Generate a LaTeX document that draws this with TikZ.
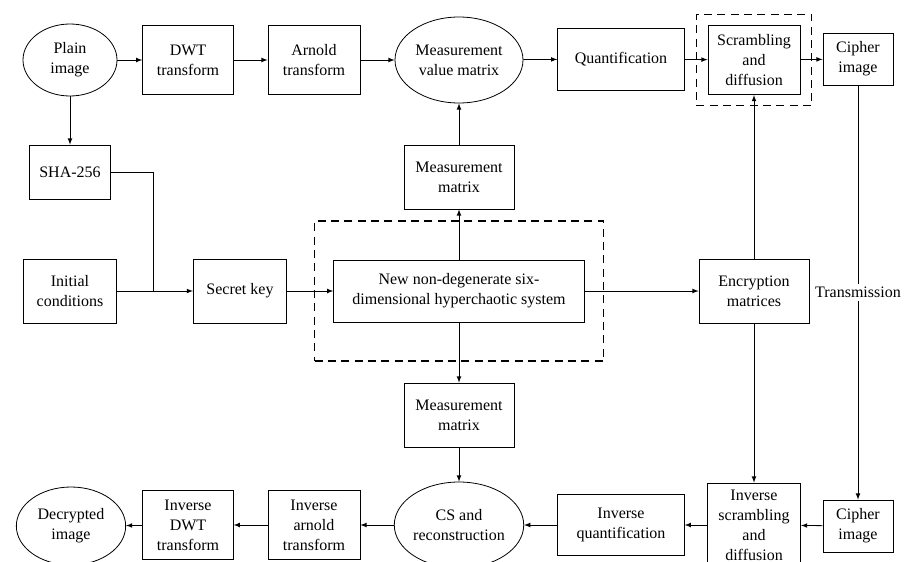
\documentclass[tikz,border=0pt]{standalone}
\usepackage{fontspec}
\setmainfont{Liberation Serif}
\usetikzlibrary{shapes.geometric, positioning, fit, arrows}

\begin{document}
\begin{tikzpicture}[->,>=latex,x=0.75pt,y=-0.75pt,line width=0.6pt,
		box/.style={draw, align=center, inner sep=1pt, minimum width=#1},
		box/.default=69pt,
		oval/.style={draw, ellipse, align=center, inner sep=0pt},
		group/.style={draw, dashed, line width=1pt, dash pattern=on 6pt off 4pt},
	]
			\fontsize{12}{15}\selectfont
			\useasboundingbox (0,0) rectangle (904,561);
			\clip (0,0) rectangle (904,561);
			% encryption row
			\node[oval, minimum width=70.5pt, minimum height=54pt] at (70, 60) (plain) {Plain\\image};
			\node[box=68pt, minimum height=52pt] at (188, 60) (dwt) {DWT\\transform};
			\node[box, minimum height=52pt] at (314, 60) (arnold) {Arnold\\transform};
			\node[oval, minimum width=96pt, minimum height=64.5pt] at (459, 60) (mvm) {Measurement\\value matrix};
			\node[box=95pt, minimum height=46.5pt] at (621, 59) (quant) {Quantification};
			\node[box, minimum height=52pt] at (754, 60) (scram) {Scrambling\\and\\diffusion};
			\node[box=52.5pt, minimum height=39pt] at (858, 59) (cipher-a) {Cipher\\image};
			% key generation
			\node[box=61pt, minimum height=40.5pt] at (70, 172) (sha) {SHA-256};
			\node[box=82.5pt, minimum height=48pt] at (459, 177) (mm-a) {Measurement\\matrix};
			\node[box=70pt, minimum height=48pt] at (70, 291) (init) {Initial\\conditions};
			\node[box=70pt, minimum height=48pt] at (240, 291) (key) {Secret key};
			\node[box=188pt, minimum height=46.5pt] at (459, 291) (chaos) {New non-degenerate six-\\dimensional hyperchaotic system};
			\node[box=82.5pt, minimum height=48pt] at (754, 291) (enc) {Encryption\\matrices};
			\node[box=82.5pt, minimum height=48pt] at (459, 415) (mm-b) {Measurement\\matrix};
			\coordinate (join) at (153, 291);
			% decryption row
			\node[oval, minimum width=96pt, minimum height=64.5pt] at (459, 525) (cs) {CS and\\reconstruction};
			\node[box=95pt, minimum height=46pt] at (621, 525) (iquant) {Inverse\\quantification};
			\node[box=70pt, minimum height=63pt] at (754, 525) (iscram) {Inverse\\scrambling\\and\\diffusion};
			\node[box=52.5pt, minimum height=39pt] at (858, 526) (cipher-b) {Cipher\\image};
			\node[box, minimum height=52pt] at (314, 525) (iarnold) {Inverse\\arnold\\transform};
			\node[box=68pt, minimum height=52pt] at (188, 525) (idwt) {Inverse\\DWT\\transform};
			\node[oval, minimum width=82pt, minimum height=58.5pt] at (71, 526) (dec) {Decrypted\\image};
			% dashed groups
			\node[group, fit=(scram), inner xsep=8.5pt, inner ysep=8pt] (scram-g) {};
			\node[group, fit=(chaos), inner xsep=14pt, inner ysep=29pt] (chaos-g) {};

			\draw (plain) -- (dwt);
			\draw (dwt) -- (arnold);
			\draw (arnold) -- (mvm);
			\draw (mvm) -- (quant);
			\draw (quant) -- (scram);
			\draw (scram) -- (cipher-a);
			\draw (plain) -- (sha);
			\draw[-] (sha) -| (join);
			\draw (init) -- (key);
			\draw (key) -- (chaos);
			\draw (chaos) -- (mm-a);
			\draw (mm-a) -- (mvm);
			\draw (chaos) -- (mm-b);
			\draw (mm-b) -- (cs);
			\draw (chaos) -- (enc);
			\draw (enc) -- (scram);
			\draw (enc) -- (iscram);
			\draw (cipher-a) -- node[fill=white, inner sep=2pt] (trans) {Transmission} (cipher-b);
			\draw (cipher-b) -- (iscram);
			\draw (iscram) -- (iquant);
			\draw (iquant) -- (cs);
			\draw (cs) -- (iarnold);
			\draw (iarnold) -- (idwt);
			\draw (idwt) -- (dec);
		\end{tikzpicture}
\end{document}
